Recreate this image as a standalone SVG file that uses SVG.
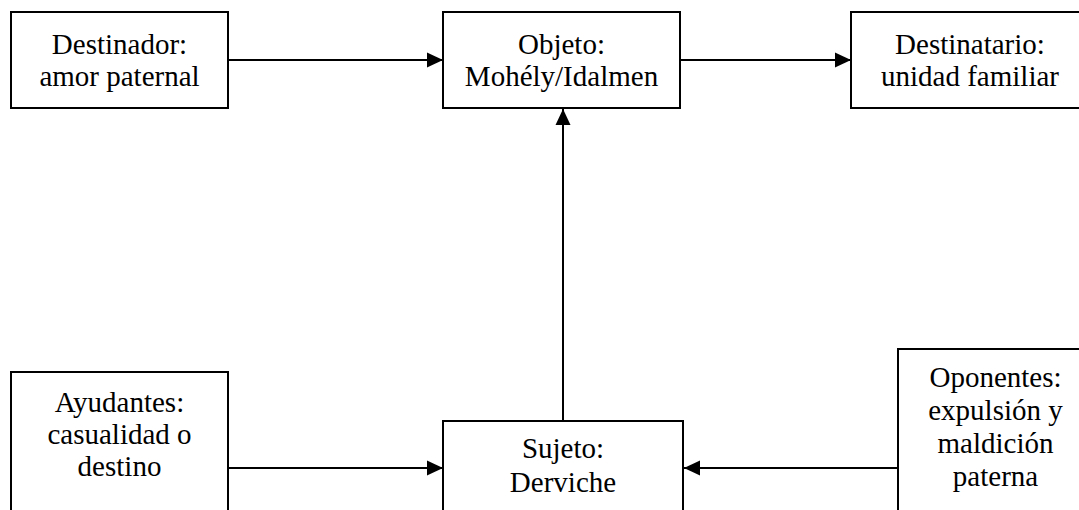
<svg xmlns="http://www.w3.org/2000/svg" width="1079" height="510" viewBox="0 0 1079 510">
<style>
.box{fill:#fff;stroke:#000;stroke-width:2}
.t{font-family:"Liberation Serif","Times New Roman",serif;font-size:29px;fill:#000;text-anchor:middle}
.c{stroke:#000;stroke-width:2;fill:none}
</style>
<defs>
<marker id="ah" markerUnits="userSpaceOnUse" markerWidth="16" markerHeight="16" viewBox="0 0 16 16" refX="16" refY="8" orient="auto">
<path d="M0,0.5 L16,8 L0,15.5 Z" fill="#000"/>
</marker>
</defs>
<rect width="1079" height="510" fill="#fff"/>
<g id="destinador">
<rect class="box" x="11" y="12" width="217" height="96"/>
<text class="t" x="119.5" y="54">Destinador:</text>
<text class="t" x="119.5" y="86">amor paternal</text>
</g>
<g id="objeto">
<rect class="box" x="443" y="12" width="237" height="96"/>
<text class="t" x="561.5" y="54">Objeto:</text>
<text class="t" x="561.5" y="86">Mohély/Idalmen</text>
</g>
<g id="destinatario">
<rect class="box" x="851" y="12" width="238" height="96"/>
<text class="t" x="970" y="54">Destinatario:</text>
<text class="t" x="970" y="86">unidad familiar</text>
</g>
<g id="ayudantes">
<rect class="box" x="11" y="372" width="217" height="160"/>
<text class="t" x="119.5" y="412">Ayudantes:</text>
<text class="t" x="119.5" y="444">casualidad o</text>
<text class="t" x="119.5" y="476">destino</text>
</g>
<g id="sujeto">
<rect class="box" x="443" y="421" width="240" height="110"/>
<text class="t" x="563" y="458">Sujeto:</text>
<text class="t" x="563" y="492">Derviche</text>
</g>
<g id="oponentes">
<rect class="box" x="898" y="349" width="195" height="180"/>
<text class="t" x="995.5" y="387">Oponentes:</text>
<text class="t" x="995.5" y="420">expulsión y</text>
<text class="t" x="995.5" y="453">maldición</text>
<text class="t" x="995.5" y="486">paterna</text>
</g>
<g id="connectors">
<line class="c" x1="228" y1="60" x2="443" y2="60" marker-end="url(#ah)"/>
<line class="c" x1="680" y1="60" x2="851" y2="60" marker-end="url(#ah)"/>
<line class="c" x1="563" y1="421" x2="563" y2="109" marker-end="url(#ah)"/>
<line class="c" x1="228" y1="468" x2="443" y2="468" marker-end="url(#ah)"/>
<line class="c" x1="898" y1="468" x2="684" y2="468" marker-end="url(#ah)"/>
</g>
</svg>
